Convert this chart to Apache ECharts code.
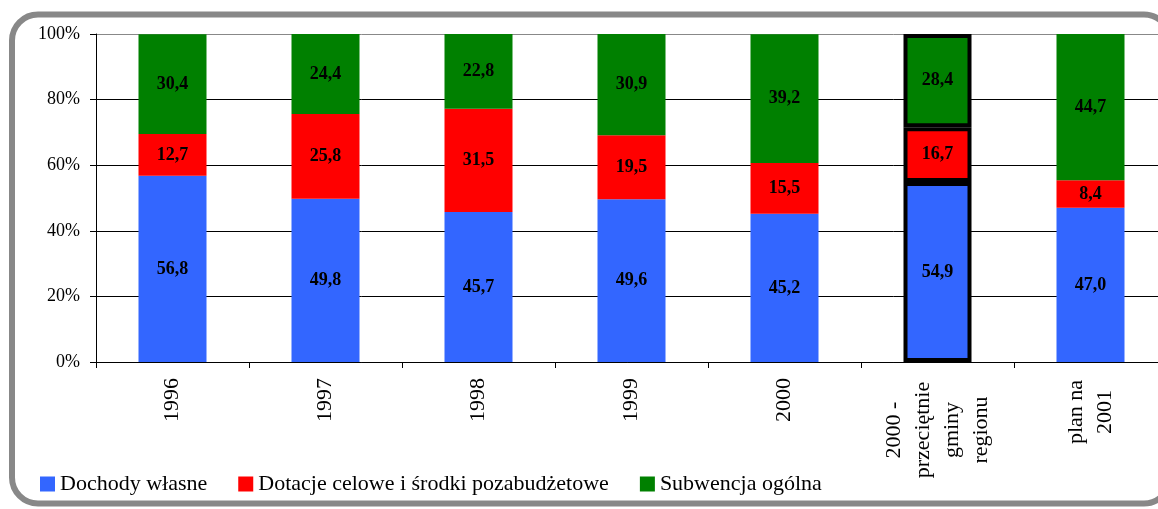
<!DOCTYPE html>
<html>
<head>
<meta charset="utf-8">
<script src="https://cdn.jsdelivr.net/npm/echarts@6/dist/echarts.min.js"></script>
<style>
  html, body { margin: 0; padding: 0; background: #fff; }
  #chart { width: 1158px; height: 509px; }
</style>
</head>
<body>
<div id="chart"></div>
<script>
const categories = ['1996', '1997', '1998', '1999', '2000', '2000 -\nprzeciętnie\ngminy\nregionu', 'plan na\n2001']
const dochodyWlasne = [56.8, 49.8, 45.7, 49.6, 45.2, 54.9, 47.0]
const dotacjeCelowe = [12.7, 25.8, 31.5, 19.5, 15.5, 16.7, 8.4]
const subwencjaOgolna = [30.4, 24.4, 22.8, 30.9, 39.2, 28.4, 44.7]
const yTicks = [0, 20, 40, 60, 80, 100]

const serif = '"Liberation Serif", "DejaVu Serif", serif'
const highlightIndex = 5

// przesunięcie dłuższych etykiet osi X w dół
const labelShift = [0, 0, 0, 0, 0, 60, 24]

const chart = echarts.init(document.getElementById('chart'))

function makeData(values) {
  return values.map((v, i) => {
    if (i === highlightIndex) {
      return { value: v, itemStyle: { borderColor: '#000', borderWidth: 4 } }
    }
    return v
  })
}

function makeSeries(name, values, color) {
  return {
    name: name,
    type: 'bar',
    stack: 'total',
    barWidth: 68,
    data: makeData(values),
    itemStyle: { color: color },
    label: {
      show: true,
      position: 'inside',
      color: '#000',
      fontFamily: serif,
      fontWeight: 'bold',
      fontSize: 18,
      formatter: p => p.value.toFixed(1).replace('.', ',')
    },
    emphasis: { disabled: true }
  }
}

const option = {
  animation: false,
  graphic: [{
    type: 'rect',
    shape: { x: 12, y: 14.5, width: 1158, height: 489, r: 26 },
    style: { fill: 'none', stroke: '#888', lineWidth: 6 },
    z: 10
  }],
  grid: { left: 96, top: 34, width: 1071, height: 328, outerBoundsMode: 'none', containLabel: false },
  legend: {
    left: 35,
    top: 468,
    icon: 'rect',
    itemWidth: 15,
    itemHeight: 15,
    itemGap: 31,
    textStyle: { fontFamily: serif, fontSize: 22, color: '#000' },
    data: ['Dochody własne', 'Dotacje celowe i środki pozabudżetowe', 'Subwencja ogólna']
  },
  xAxis: {
    type: 'category',
    data: categories.map((c, i) => ({
      value: c,
      textStyle: {
        align: 'center',
        verticalAlign: 'middle',
        padding: [0, labelShift[i], 0, 0]
      }
    })),
    axisLine: { lineStyle: { color: '#000', width: 1 } },
    axisTick: { show: true, length: 6, lineStyle: { color: '#000' } },
    axisLabel: {
      rotate: 90,
      interval: 0,
      align: 'center',
      verticalAlign: 'middle',
      margin: 38,
      fontFamily: serif,
      fontSize: 22,
      lineHeight: 29,
      color: '#000'
    }
  },
  yAxis: {
    type: 'value',
    min: 0,
    max: 100,
    interval: 20,
    axisLine: { show: true, lineStyle: { color: '#000' } },
    axisTick: { show: true, length: 6, lineStyle: { color: '#000' } },
    axisLabel: {
      margin: 16,
      fontFamily: serif,
      fontSize: 18,
      color: '#000',
      formatter: v => yTicks.includes(v) ? v + '%' : ''
    },
    splitLine: {
      lineStyle: { color: ['#000', '#000', '#000', '#000', '#000', '#888'], width: 1 }
    }
  },
  series: [
    makeSeries('Dochody własne', dochodyWlasne, '#3366ff'),
    makeSeries('Dotacje celowe i środki pozabudżetowe', dotacjeCelowe, '#ff0000'),
    makeSeries('Subwencja ogólna', subwencjaOgolna, '#008000')
  ]
}

chart.setOption(option)
</script>
</body>
</html>
